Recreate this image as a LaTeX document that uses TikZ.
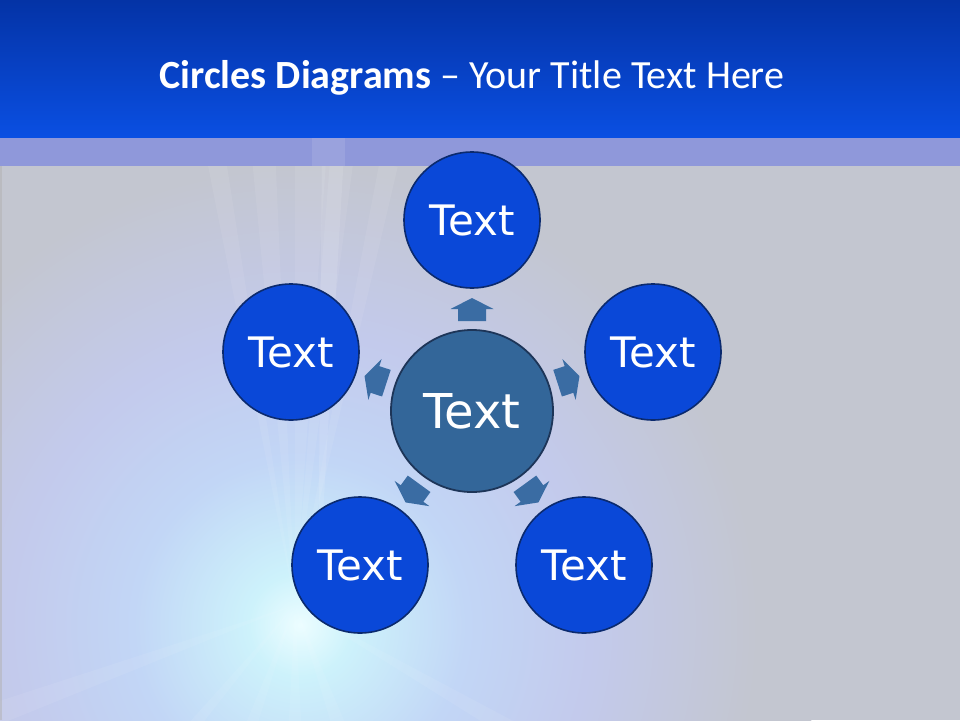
\documentclass[tikz,border=0pt]{standalone}
\usepackage{fontspec}
\usetikzlibrary{calc}
\newfontfamily\titlefont{Carlito}
\newfontfamily\circfont{DejaVu Sans}
\definecolor{hdrtop}{HTML}{0433A6}
\definecolor{hdrbot}{HTML}{0A4FE2}
\definecolor{band}{HTML}{8F98DA}
\definecolor{bg}{HTML}{C3C6D0}
\definecolor{glowA}{HTML}{ECFDFF}
\definecolor{glowB}{HTML}{CDF2FB}
\definecolor{glowC}{HTML}{C2D6F6}
\definecolor{glowD}{HTML}{C3CAEC}
\definecolor{outfill}{HTML}{0A48D8}
\definecolor{outline}{HTML}{0B2A6E}
\definecolor{cenfill}{HTML}{336699}
\definecolor{cenline}{HTML}{1D3558}
\definecolor{arrfill}{HTML}{3A6CA3}
\pgfdeclareradialshading{glow}{\pgfpoint{0bp}{0bp}}{color(0bp)=(glowA); color(2.5bp)=(glowB); color(8bp)=(glowC); color(14bp)=(glowD); color(22bp)=(bg); color(50bp)=(bg)}
\tikzset{
  outer/.style={circle, draw=outline, line width=1.6pt, fill=outfill, minimum size=136pt, inner sep=0pt, text=white, font=\circfont\fontsize{42}{50}\selectfont},
  centre/.style={circle, draw=cenline, line width=1.8pt, fill=cenfill, minimum size=162pt, inner sep=0pt, text=white, font=\circfont\fontsize{48}{56}\selectfont},
  blockarrow/.style={fill=arrfill, draw=none}
}
\begin{document}
\begin{tikzpicture}[x=1pt, y=-1pt]
\useasboundingbox (0,0) rectangle (960,720);
% background
\fill[bg] (0,137) rectangle (960,720);
\begin{scope}
\clip (0,137) rectangle (960,720);
\shade[shading=glow] (300,625) circle (520);
\coordinate (burst) at (295,605);
\foreach \a/\w in {-84/1.5, -88/2, -94/1.5, -100/1.2, -78/1.2, 70/3, 90/3, 110/2.5, 130/2, 160/2, 30/2}{
  \fill[white, opacity=0.07] (burst) -- ($(burst)+(\a-\w:450)$) -- ($(burst)+(\a+\w:450)$) -- cycle;
}
\fill[white, opacity=0.10] (318,600) -- (322,137) -- (345,137) -- cycle;
\end{scope}
\fill[band] (0,137) rectangle (960,166);
\fill[white, opacity=0.10] (312,137) rectangle (345,166);
\fill[gray!60, opacity=0.5] (0,166) rectangle (1.5,720);
\shade[top color=hdrtop, bottom color=hdrbot] (0,0) rectangle (960,137);
% title
\node[anchor=base, text=white, font=\titlefont\fontsize{40}{47}\selectfont, inner sep=0pt] (title) at (472,88) {\textbf{Circles Diagrams} – Your Title Text Here};
% circles
\node[centre] (c) at (472,411) {Text};
\node[outer] (t) at (472,220) {Text};
\node[outer] (r) at (653,352) {Text};
\node[outer] (br) at (584,565) {Text};
\node[outer] (bl) at (360,565) {Text};
\node[outer] (l) at (291,352) {Text};
% block arrows
\foreach \a in {90,18,-54,-126,162}{
  \begin{scope}[shift={(c.center)}, rotate=\a]
    \fill[blockarrow] (90,-14) -- (102,-14) -- (102,-21.5) -- (113,0) -- (102,21.5) -- (102,14) -- (90,14) -- cycle;
  \end{scope}
}
\end{tikzpicture}
\end{document}
